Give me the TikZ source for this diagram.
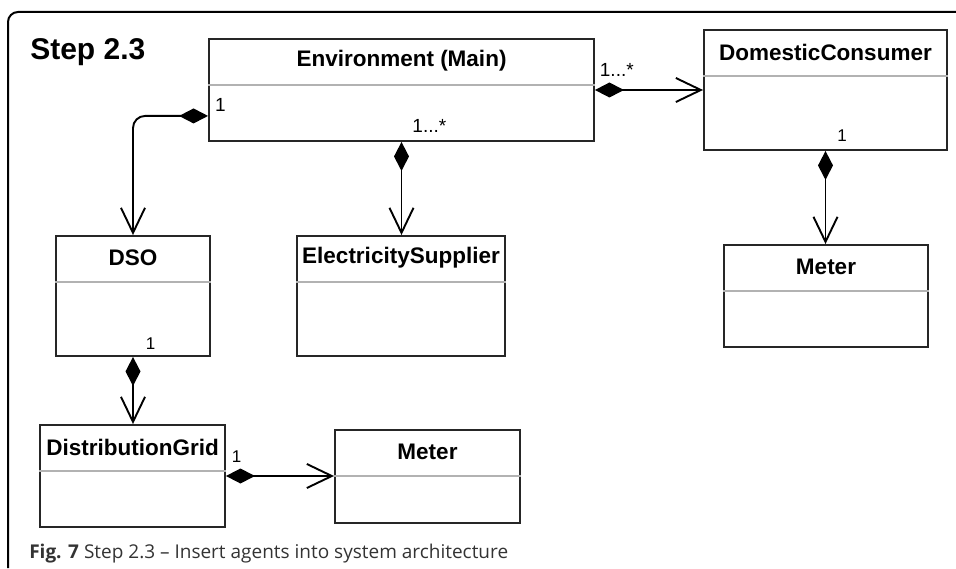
\documentclass[tikz,border=0pt]{standalone}
\usepackage{fontspec}
\setmainfont{Liberation Sans}
\newfontfamily\capfont{Open Sans}
\usetikzlibrary{positioning}
\usetikzlibrary{calc}
\usetikzlibrary{arrows.meta}

\begin{document}
\begin{tikzpicture}[x=1pt,y=1pt,line width=1.9pt,
	font=\fontsize{22.5}{26}\selectfont\bfseries]
	\tikzstyle{cls}=[draw=black!85,inner sep=0pt]
	\tikzstyle{ttl}=[inner sep=0pt]
	\tikzstyle{divider}=[draw=black!30,line width=1.3pt]
	\tikzstyle{comp}=[{Diamond[length=29pt,width=15pt]}-{Straight Barb[length=25pt,width=24pt]}]
	\tikzstyle{mult}=[font=\fontsize{19}{22}\selectfont,inner sep=0pt]
	\tikzstyle{mults}=[font=\fontsize{17}{20}\selectfont,inner sep=0pt]
	
	\useasboundingbox (0,0) rectangle (956,568);
	\draw[line width=2pt,rounded corners=10pt] (8,0) -- (8,556) -- (956,556);
	
	\node[anchor=base west,font=\fontsize{30}{34}\selectfont\bfseries] (step) at (26,508) {Step 2.3};
	
	% classes
	\node[cls,minimum width=385,minimum height=102] (env)    at (401.5,478) {};
	\node[cls,minimum width=243,minimum height=120] (dc)     at (825.5,478) {};
	\node[cls,minimum width=204,minimum height=102] (meterr) at (826,272)   {};
	\node[cls,minimum width=154,minimum height=120] (dso)    at (133,272)   {};
	\node[cls,minimum width=208,minimum height=120] (es)     at (401,272)   {};
	\node[cls,minimum width=185,minimum height=102] (dg)     at (132.5,92)  {};
	\node[cls,minimum width=185,minimum height=93]  (meterb) at (427.5,91.5) {};
	
	\foreach \b/\t in {env/Environment (Main),dc/DomesticConsumer,meterr/Meter,
		dso/DSO,es/ElectricitySupplier,dg/DistributionGrid,meterb/Meter} {
		\node[ttl] (\b-title) at ($(\b.north)+(0,-23)$) {\t};
		\draw[divider] ($(\b.north west)+(0,-47)$) -- ($(\b.north east)+(0,-47)$);
	}
	
	% compositions
	\coordinate (envl) at ($(env.south west)+(0,26)$);
	\draw[comp] (env.east) -- (dc.west);
	\draw[comp,rounded corners=12pt] (envl) -| (dso.north);
	\draw[comp] (env.south) -- (env.south |- es.north);
	\draw[comp] (dc.south) -- (dc.south |- meterr.north);
	\draw[comp] (dso.south) -- (dso.south |- dg.north);
	\draw[comp] (dg.east) -- (dg.east -| meterb.west);
	
	% multiplicities
	\node[mult,anchor=south west]  (m-envdc)  at ($(env.east)+(4,13)$)    {1...*};
	\node[mult,anchor=south west]  (m-envdso) at ($(envl)+(6,3)$)         {1};
	\node[mult,anchor=south west]  (m-enves)  at ($(env.south)+(10,8)$)   {1...*};
	\node[mults,anchor=south west] (m-dc)     at ($(dc.south)+(11,8)$)    {1};
	\node[mults,anchor=south west] (m-dso)    at ($(dso.south)+(12,6)$)   {1};
	\node[mults,anchor=south west] (m-dg)     at ($(dg.east)+(5,13)$)     {1};
	
	\node[anchor=base west,font=\capfont\fontsize{19}{22}\selectfont,text=black!80] (cap) at (25,10)
	{\textbf{Fig. 7} Step 2.3 – Insert agents into system architecture};
\end{tikzpicture}
\end{document}
